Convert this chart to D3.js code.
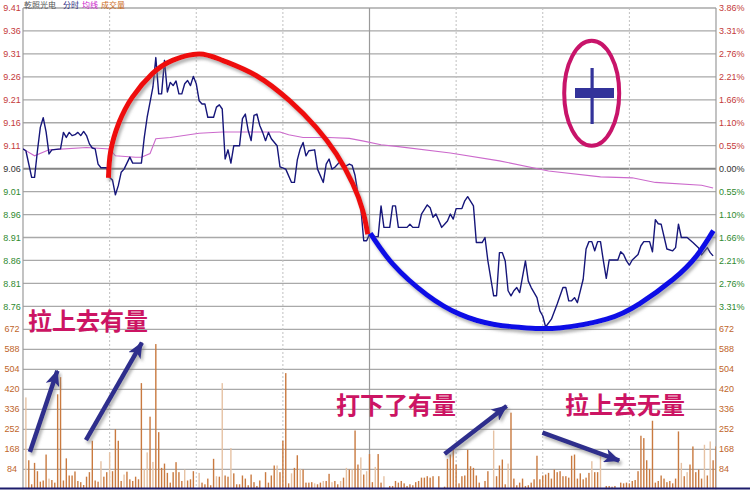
<!DOCTYPE html>
<html><head><meta charset="utf-8">
<script src="https://cdn.jsdelivr.net/npm/d3@7/dist/d3.min.js"></script>
<style>body{margin:0;background:#fff}svg{display:block}</style>
</head><body>
<svg id="c" width="750" height="490"></svg>
<script>
// ---------- DATA ----------
const preClose = 9.06;
const priceTicks = [9.41,9.36,9.31,9.26,9.21,9.16,9.11,9.06,9.01,8.96,8.91,8.86,8.81,8.76];
const pctLabels = ["3.86%","3.31%","2.76%","2.21%","1.66%","1.10%","0.55%","0.00%","0.55%","1.10%","1.66%","2.21%","2.76%","3.31%"];
const volTicks = [672,588,504,420,336,252,168,84];
const timeTicks = [0,30,60,90,120,150,180,210,240];
const headerLabels = ["乾照光电","分时","均线","成交量"];

const priceTimes = [0,1,3,4,5,6,7,8,9,10,13,14,15,16,17,18,19,20,21,22,23,24,25,26,27,29,30,31,32,33,34,35,37,38,41,42,43,44,45,46,47,48,49,50,51,52,53,54,55,56,57,58,59,60,61,62,63,64,66,67,68,69,70,71,72,73,75,76,77,78,79,80,81,82,83,84,85,86,88,89,91,93,94,95,96,97,98,99,101,102,104,105,106,107,108,110,111,113,114,115,116,117,118,119,120,122,123,124,125,127,128,129,130,133,134,135,137,138,140,141,142,143,145,146,147,148,149,150,152,153,154,156,157,159,160,161,163,164,165,166,167,168,169,170,171,172,174,175,176,178,179,180,181,183,185,187,188,189,190,191,192,194,195,196,197,198,199,200,201,202,203,206,207,208,209,210,211,213,214,215,217,218,219,220,221,223,225,226,227,228,230,232,234,235,237,238,239];
const prices = [9.103,9.099,9.041,9.041,9.099,9.150,9.171,9.140,9.092,9.101,9.103,9.139,9.128,9.139,9.132,9.134,9.139,9.132,9.141,9.132,9.114,9.105,9.103,9.070,9.062,9.062,9.041,9.035,9.003,9.023,9.052,9.059,9.085,9.072,9.072,9.128,9.172,9.205,9.238,9.302,9.223,9.223,9.296,9.227,9.248,9.241,9.251,9.223,9.223,9.245,9.252,9.241,9.261,9.245,9.208,9.201,9.201,9.172,9.172,9.194,9.199,9.190,9.081,9.101,9.072,9.110,9.110,9.169,9.179,9.143,9.121,9.176,9.179,9.154,9.139,9.121,9.139,9.125,9.110,9.064,9.059,9.030,9.030,9.079,9.103,9.117,9.088,9.099,9.101,9.059,9.030,9.070,9.081,9.059,9.063,9.077,9.063,9.070,9.067,9.045,9.005,8.975,8.903,8.903,8.917,8.912,8.912,8.979,8.932,8.932,8.979,8.979,8.932,8.932,8.939,8.932,8.932,8.961,8.981,8.975,8.954,8.961,8.932,8.939,8.946,8.961,8.950,8.973,8.973,8.990,8.999,8.979,8.899,8.899,8.910,8.859,8.783,8.783,8.877,8.877,8.859,8.794,8.783,8.794,8.801,8.790,8.859,8.815,8.801,8.779,8.750,8.739,8.715,8.732,8.765,8.801,8.801,8.772,8.772,8.779,8.768,8.819,8.885,8.901,8.901,8.881,8.901,8.901,8.859,8.821,8.861,8.861,8.879,8.873,8.859,8.850,8.861,8.873,8.892,8.901,8.901,8.879,8.949,8.940,8.939,8.885,8.881,8.888,8.939,8.910,8.910,8.899,8.887,8.872,8.888,8.877,8.870];

const avgTimes = [0,4,9,22,30,32,39,41,44,46,51,61,69,89,92,97,106,113,118,124,130,148,165,182,200,211,219,235,239];
const avgPrices = [9.103,9.088,9.101,9.106,9.103,9.088,9.085,9.085,9.093,9.125,9.128,9.137,9.140,9.140,9.134,9.128,9.128,9.126,9.120,9.112,9.108,9.094,9.077,9.055,9.042,9.040,9.030,9.024,9.018];

const volTimes = [1,2,3,4,5,6,7,8,9,10,11,12,13,14,15,16,17,18,19,20,21,22,23,24,25,26,27,28,29,30,31,32,33,34,35,36,37,38,39,40,41,42,43,44,45,46,47,48,49,50,51,52,53,54,55,56,57,58,59,61,62,63,64,65,66,67,68,69,70,71,72,73,74,75,76,77,78,79,80,81,82,84,85,86,87,88,89,90,91,92,93,94,95,96,97,98,99,100,101,102,103,104,105,106,107,108,109,110,111,112,113,114,115,116,117,118,119,120,121,122,123,124,125,127,128,129,130,131,132,133,134,135,136,137,138,139,140,141,142,144,146,147,148,149,150,151,152,153,154,155,156,157,158,160,161,163,164,165,166,167,168,169,170,171,172,173,174,175,176,177,178,179,180,181,182,183,184,185,186,187,188,189,190,191,192,193,194,195,196,197,198,199,200,202,203,204,205,207,208,209,210,211,212,213,214,215,216,217,218,219,220,221,222,223,224,225,226,227,228,229,230,231,232,233,234,235,236,237,238,239,240];
const volumes = [386,122,21,111,76,32,37,146,45,39,28,399,471,37,130,58,58,75,35,30,18,53,72,204,37,32,118,53,72,155,76,252,204,35,62,74,42,35,53,42,446,83,155,305,115,610,240,90,108,69,28,72,114,72,35,83,37,42,76,69,28,21,45,17,128,55,53,446,58,53,173,67,21,21,58,45,17,62,30,14,37,72,28,58,100,100,72,204,488,25,67,90,143,86,83,28,28,30,25,21,28,35,35,65,30,35,21,35,49,90,83,83,247,104,134,62,76,148,30,94,148,28,55,14,14,35,28,35,25,14,21,17,30,35,49,49,55,49,55,55,11,128,146,169,104,25,55,58,166,97,90,58,28,35,76,247,55,100,125,21,108,322,45,17,28,45,14,17,28,42,141,42,58,62,69,45,83,72,76,55,55,49,141,146,45,67,42,49,69,118,72,72,141,14,14,11,14,28,25,28,25,35,39,76,225,215,122,86,288,28,35,58,45,30,35,25,45,243,111,55,72,104,180,72,83,45,187,58,201,122,180];
const neutralVolTimes = [1,9,27,30,35,42,43,45,56,61,67,69,72,88,93,96,101,104,107,110,112,114,117,119,122,125,163,168,197,200,228,230,236,238];

// annotation shapes, in data units (minute, price) / (minute, volume)
const redArcTimes  = [29.6,30.4,33.3,37.9,44.8,51.8,61,69.1,80.7,92.3,101.5,108.5,114.2,117.7,119.4];
const redArcPrices = [9.040,9.099,9.161,9.216,9.267,9.296,9.310,9.296,9.263,9.208,9.150,9.092,9.027,8.968,8.917];
const blueArcTimes  = [120.3,128.1,139.7,151.2,162.8,174.3,185.9,202.1,213.6,225.2,233.3,239.1];
const blueArcPrices = [8.919,8.852,8.786,8.743,8.721,8.713,8.713,8.732,8.766,8.819,8.870,8.925];
const arrowFrom = [[2.4,157],[21.8,207],[146,148],[179.9,238]];
const arrowTo   = [[11.9,498],[41.2,616],[167.5,350],[206.5,120]];
const notes = ["拉上去有量","打下了有量","拉上去无量"];

// ---------- CHART ----------
const svg = d3.select('#c');
const L = 23, R = 716, T = 8, MID = 329.3, B = 489.3;
const x  = d3.scaleLinear().domain([0,240]).range([L,R]);
const yP = d3.scaleLinear().domain([8.71,9.41]).range([MID,T]);
const yV = d3.scaleLinear().domain([0,672]).range([B,MID]);

const defs = svg.append('defs');
defs.append('clipPath').attr('id','clip').append('rect')
  .attr('x',L).attr('y',T).attr('width',R-L).attr('height',B-T);
const sh = defs.append('filter').attr('id','sh').attr('x','-10%').attr('y','-10%').attr('width','130%').attr('height','130%');
sh.append('feDropShadow').attr('dx',2).attr('dy',3).attr('stdDeviation',1.6)
  .attr('flood-color','#777').attr('flood-opacity',0.55);
defs.append('marker').attr('id','ah').attr('markerUnits','userSpaceOnUse')
  .attr('viewBox','0 0 16 14').attr('refX',15).attr('refY',7)
  .attr('markerWidth',16).attr('markerHeight',14).attr('orient','auto')
  .append('path').attr('d','M0,0 L16,7 L0,14 L4,7 Z').attr('fill','#2e2e8c');

const red='#c43a3a', green='#2f8a2f', brown='#c0652a';

// horizontal grid
const grid = svg.append('g');
priceTicks.concat([8.71]).forEach(t=>{
  const isPre = Math.abs(t-preClose)<1e-6;
  grid.append('line').attr('x1',L).attr('x2',R).attr('y1',yP(t)).attr('y2',yP(t))
    .attr('stroke', isPre ? '#858585' : '#a9a9a9').attr('stroke-width', isPre ? 2 : 1.3);
});
volTicks.slice(1).forEach(v=>{
  grid.append('line').attr('x1',L).attr('x2',R).attr('y1',yV(v)).attr('y2',yV(v))
    .attr('stroke','#a9a9a9').attr('stroke-width',1.3);
});
// vertical grid
timeTicks.forEach(t=>{
  const solid = (t===0||t===120||t===240);
  grid.append('line').attr('x1',x(t)).attr('x2',x(t)).attr('y1',T).attr('y2',B)
    .attr('stroke', solid ? '#9a9a9a' : '#c0c0c0').attr('stroke-width', solid?1.2:1)
    .attr('stroke-dasharray', solid ? null : '2,2');
});

// header
const hdr = svg.append('g').attr('font-family','Noto Sans CJK SC, sans-serif').attr('font-size',8);
const hx=[24,63,82,101], hc=['#555','#2a2a80','#cc22cc','#cc6a1a'];
headerLabels.forEach((t,i)=>hdr.append('text').attr('x',hx[i]).attr('y',7.6).attr('fill',hc[i]).text(t));

// axis labels
const lab = svg.append('g').attr('font-family','Liberation Sans, Arial, sans-serif').attr('font-size',9);
priceTicks.forEach((t,i)=>{
  const c = t>preClose+1e-6 ? red : (t<preClose-1e-6 ? green : '#333');
  lab.append('text').attr('x',12).attr('y',yP(t)).attr('dy','0.35em').attr('text-anchor','middle').attr('fill',c).text(t.toFixed(2));
  lab.append('text').attr('x',719).attr('y',yP(t)).attr('dy','0.35em').attr('fill',c).text(pctLabels[i]);
});
volTicks.forEach(v=>{
  lab.append('text').attr('x',12).attr('y',yV(v)).attr('dy','0.35em').attr('text-anchor','middle').attr('fill',brown).text(v);
  lab.append('text').attr('x',719).attr('y',yV(v)).attr('dy','0.35em').attr('fill',brown).text(v);
});

// volume bars
const vols = volTimes.map((t,i)=>({t, v:volumes[i], n: neutralVolTimes.includes(t)}));
svg.append('g').attr('clip-path','url(#clip)').selectAll('rect').data(vols).join('rect')
  .attr('x',d=>x(d.t)-0.7).attr('width',1.4)
  .attr('y',d=>yV(d.v)).attr('height',d=>yV(0)-yV(d.v))
  .attr('fill',d=>d.n ? '#e6c2a4' : '#c97a40');

// average & price lines
const plot = svg.append('g').attr('clip-path','url(#clip)');
plot.append('path').datum(avgTimes.map((t,i)=>[t,avgPrices[i]]))
  .attr('d', d3.line().x(d=>x(d[0])).y(d=>yP(d[1])))
  .attr('fill','none').attr('stroke','#cc6acc').attr('stroke-width',1.1);
plot.append('path').datum(priceTimes.map((t,i)=>[t,prices[i]]))
  .attr('d', d3.line().x(d=>x(d[0])).y(d=>yP(d[1])))
  .attr('fill','none').attr('stroke','#16167a').attr('stroke-width',1.4).attr('stroke-linejoin','round');

// annotations: arcs
const arcLine = d3.line().x(d=>x(d[0])).y(d=>yP(d[1])).curve(d3.curveNatural);
svg.append('path').datum(redArcTimes.map((t,i)=>[t,redArcPrices[i]]))
  .attr('d',arcLine).attr('fill','none').attr('stroke','#ee1010').attr('stroke-width',5)
  .attr('stroke-linecap','butt').attr('filter','url(#sh)');
svg.append('path').datum(blueArcTimes.map((t,i)=>[t,blueArcPrices[i]]))
  .attr('d',arcLine).attr('fill','none').attr('stroke','#1010e6').attr('stroke-width',5)
  .attr('stroke-linecap','butt').attr('filter','url(#sh)');

// arrows
arrowFrom.forEach((f,i)=>{
  const to = arrowTo[i];
  svg.append('line').attr('x1',x(f[0])).attr('y1',yV(f[1])).attr('x2',x(to[0])).attr('y2',yV(to[1]))
    .attr('stroke','#2e2e8c').attr('stroke-width',4.5).attr('marker-end','url(#ah)')
    .attr('filter','url(#sh)');
});

// notes
const notePos = [[28,330],[336,414],[565,414]];
notes.forEach((t,i)=>{
  svg.append('text').attr('x',notePos[i][0]).attr('y',notePos[i][1])
    .attr('font-family','Noto Sans CJK SC, sans-serif').attr('font-weight','bold').attr('font-size',24)
    .attr('fill','#cc1463').text(t);
});

// ellipse with plus sign
svg.append('ellipse').attr('cx',591.7).attr('cy',93.3).attr('rx',27.5).attr('ry',52.5)
  .attr('fill','none').attr('stroke','#c8146a').attr('stroke-width',4);
svg.append('rect').attr('x',590.5).attr('y',68).attr('width',3.2).attr('height',56).attr('fill','#33339a');
svg.append('rect').attr('x',575).attr('y',88).attr('width',39).attr('height',10).attr('fill','#33339a');

// bottom border
svg.append('line').attr('x1',0).attr('x2',750).attr('y1',488.5).attr('y2',488.5)
  .attr('stroke','#1c1c6c').attr('stroke-width',2);
</script>
</body></html>
